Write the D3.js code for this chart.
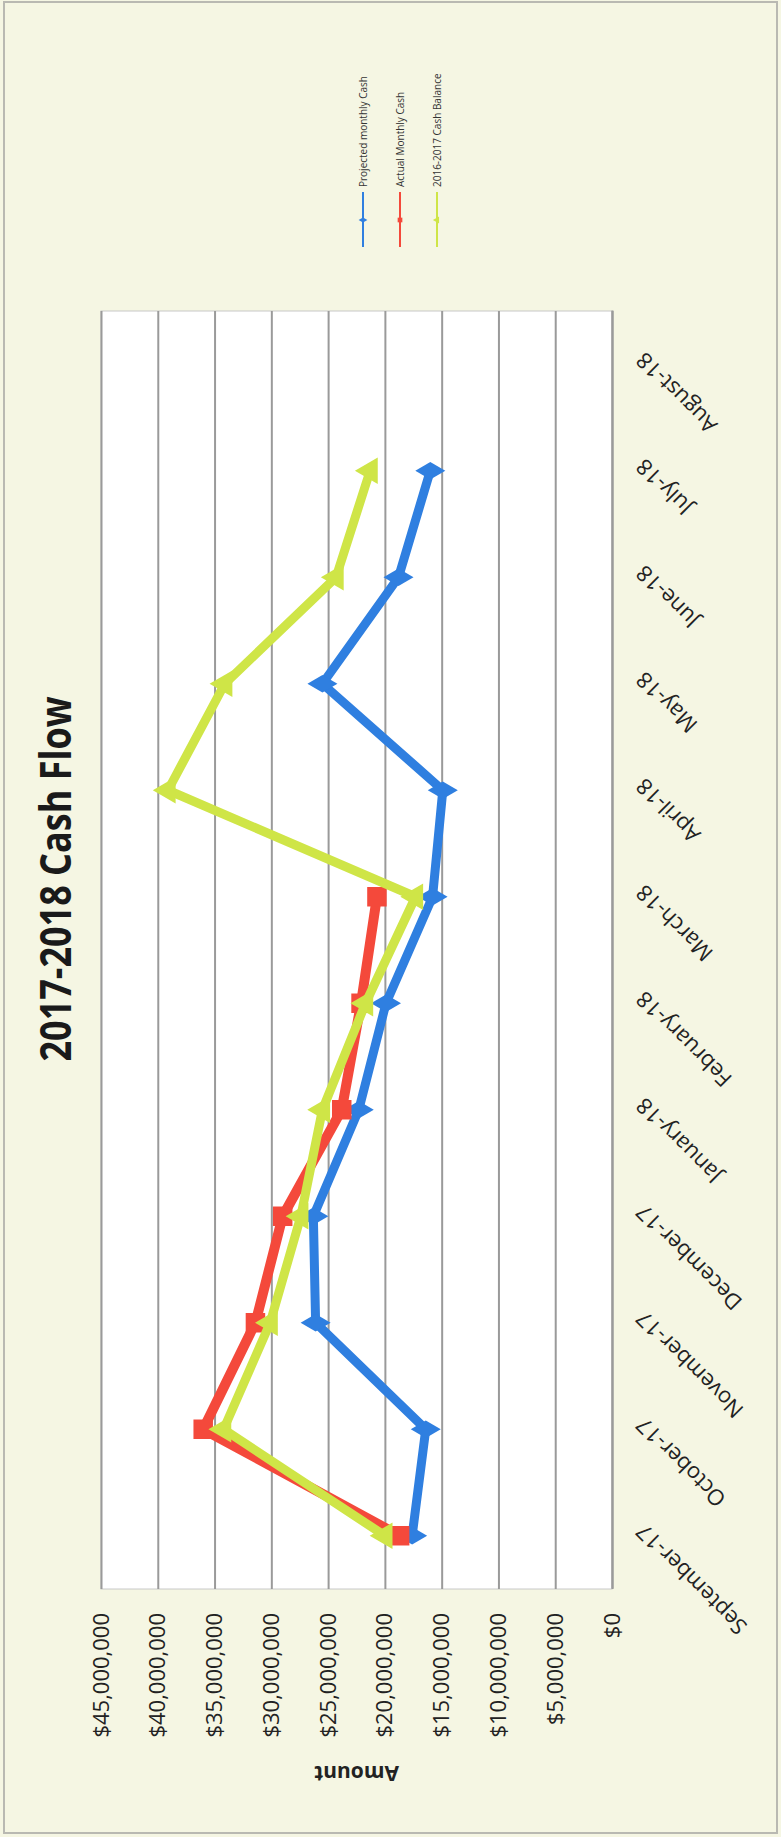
<!DOCTYPE html>
<html>
<head>
<meta charset="utf-8">
<script src="https://cdn.jsdelivr.net/npm/d3@7"></script>
<style>
  body { margin: 0; background: #fff; }
  svg { display: block; }
</style>
</head>
<body>
<div id="chart"></div>
<script>
// chart data
var months = ["September-17", "October-17", "November-17", "December-17", "January-18",
  "February-18", "March-18", "April-18", "May-18", "June-18", "July-18", "August-18"];
var projected = [17.6e6, 16.4e6, 26.1e6, 26.3e6, 22.3e6, 19.9e6, 15.8e6, 14.9e6, 25.5e6, 18.8e6, 16.0e6, null];
var actual = [18.7e6, 36.0e6, 31.4e6, 29.0e6, 23.8e6, 22.1e6, 20.7e6, null, null, null, null, null];
var lastYear = [20.0e6, 34.2e6, 30.1e6, 27.4e6, 25.5e6, 21.7e6, 17.3e6, 39.1e6, 34.1e6, 24.3e6, 21.3e6, null];
var amountTicks = [0, 5e6, 10e6, 15e6, 20e6, 25e6, 30e6, 35e6, 40e6, 45e6];
var seriesNames = ["Projected monthly Cash", "Actual Monthly Cash", "2016-2017 Cash Balance"];

var pageWidth = 781;
var pageHeight = 1837;

// the scan is turned a quarter turn, so the chart is drawn flat and rotated
var chartWidth = pageHeight;
var chartHeight = pageWidth;

var plot = { left: 248, right: 1526, top: 101, bottom: 612 };

var svg = d3.select("#chart")
  .append("svg")
  .attr("width", pageWidth)
  .attr("height", pageHeight);

svg.append("rect")
  .attr("width", pageWidth)
  .attr("height", pageHeight)
  .attr("fill", "#f5f6e3");

svg.append("rect")
  .attr("x", 4)
  .attr("y", 2)
  .attr("width", pageWidth - 8)
  .attr("height", pageHeight - 6)
  .attr("fill", "none")
  .attr("stroke", "#b9b9b2")
  .attr("stroke-width", 2);

var chartGroup = svg.append("g")
  .attr("transform", `translate(0, ${pageHeight}) rotate(-90)`);

var xScale = d3.scaleBand()
  .domain(months)
  .range([plot.left, plot.right]);

var yScale = d3.scaleLinear()
  .domain([0, 45e6])
  .range([plot.bottom, plot.top]);

var xOf = d => xScale(d) + xScale.bandwidth() / 2;

// plot area
chartGroup.append("rect")
  .attr("x", plot.left)
  .attr("y", plot.top)
  .attr("width", plot.right - plot.left)
  .attr("height", plot.bottom - plot.top)
  .attr("fill", "#fff")
  .attr("stroke", "#c8c8c8")
  .attr("stroke-width", 1);

// gridlines
chartGroup.append("g")
  .attr("transform", `translate(${plot.left}, 0)`)
  .call(d3.axisLeft(yScale).tickValues(amountTicks).tickSize(-(plot.right - plot.left)).tickFormat(""))
  .call(g => g.select(".domain").remove())
  .call(g => g.selectAll("line").attr("stroke", "#9a9a9a").attr("stroke-width", 2));

// value axis
chartGroup.append("g")
  .attr("transform", `translate(${plot.left}, 0)`)
  .call(d3.axisLeft(yScale).tickValues(amountTicks).tickSize(0).tickPadding(24).tickFormat(d3.format("$,")))
  .call(g => g.select(".domain").remove())
  .call(g => g.selectAll("text")
    .attr("font-family", "'Open Sans', sans-serif")
    .attr("font-size", 22)
    .attr("fill", "#222"));

// category axis
var xAxis = chartGroup.append("g")
  .attr("transform", `translate(0, ${plot.bottom})`)
  .call(d3.axisBottom(xScale).tickSize(0).tickFormat(d => d))
  .call(g => g.select(".domain").attr("stroke", "#9a9a9a").attr("stroke-width", 2));

xAxis.selectAll("text")
  .attr("font-family", "'Open Sans', sans-serif")
  .attr("font-size", 22)
  .attr("fill", "#222")
  .attr("text-anchor", "end")
  .attr("dy", "0.35em")
  .attr("transform", "translate(8, 28) rotate(-45)")
  .attr("y", 0);

// axis title
chartGroup.append("text")
  .attr("transform", `translate(64, ${(plot.top + plot.bottom) / 2}) rotate(-90)`)
  .attr("text-anchor", "middle")
  .attr("dy", "0.35em")
  .attr("font-family", "'Open Sans', sans-serif")
  .attr("font-weight", "bold")
  .attr("font-size", 21)
  .attr("fill", "#222")
  .text("Amount");

// title
chartGroup.append("text")
  .attr("x", 958)
  .attr("y", 56)
  .attr("dy", "0.35em")
  .attr("text-anchor", "middle")
  .attr("font-family", "'Open Sans', sans-serif")
  .attr("font-weight", "bold")
  .attr("font-size", 43)
  .attr("textLength", 365)
  .attr("lengthAdjust", "spacingAndGlyphs")
  .attr("fill", "#1a1a1a")
  .text("2017-2018 Cash Flow");

var series = [
  { name: seriesNames[0], values: projected, color: "#2f7fe0", width: 9, symbol: d3.symbolDiamond, size: 260 },
  { name: seriesNames[1], values: actual, color: "#f4493b", width: 10, symbol: d3.symbolSquare, size: 380 },
  { name: seriesNames[2], values: lastYear, color: "#cfe547", width: 9, symbol: d3.symbolTriangle, size: 300 }
];

var line = d3.line()
  .defined(d => d.value !== null)
  .x(d => xOf(d.month))
  .y(d => yScale(d.value));

series.forEach(function(s) {
  var points = months.map((m, i) => ({ month: m, value: s.values[i] }));

  chartGroup.append("path")
    .datum(points)
    .attr("d", line)
    .attr("fill", "none")
    .attr("stroke", s.color)
    .attr("stroke-width", s.width)
    .attr("stroke-linejoin", "round");

  chartGroup.selectAll(null)
    .data(points.filter(d => d.value !== null))
    .enter()
    .append("path")
    .attr("d", d3.symbol().type(s.symbol).size(s.size))
    .attr("transform", d => `translate(${xOf(d.month)}, ${yScale(d.value)})`)
    .attr("fill", s.color);
});

// legend
var legend = chartGroup.append("g")
  .attr("transform", "translate(1590, 0)");

var legendRows = legend.selectAll("g")
  .data(series)
  .enter()
  .append("g")
  .attr("transform", (d, i) => `translate(0, ${363 + i * 37})`);

legendRows.append("line")
  .attr("x1", 0)
  .attr("x2", 55)
  .attr("stroke", d => d.color)
  .attr("stroke-width", 2);

legendRows.append("path")
  .attr("d", d => d3.symbol().type(d.symbol).size(22)())
  .attr("transform", "translate(27, 0)")
  .attr("fill", d => d.color);

legendRows.append("text")
  .attr("x", 60)
  .attr("dy", "0.35em")
  .attr("font-family", "'Open Sans', sans-serif")
  .attr("font-size", 10)
  .attr("fill", "#333")
  .text(d => d.name);
</script>
</body>
</html>
